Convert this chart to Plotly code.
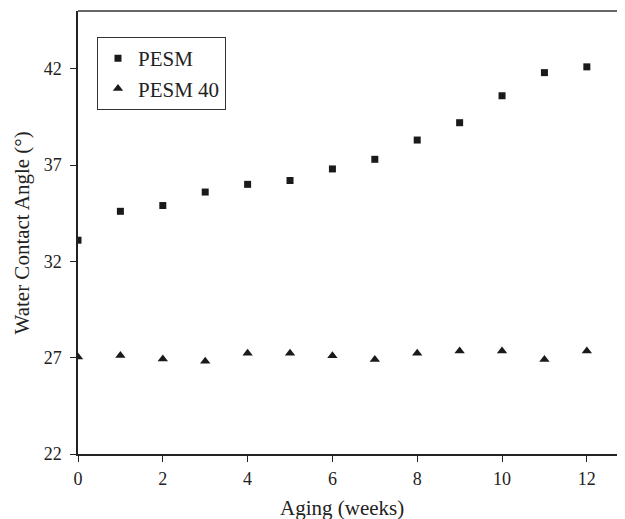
import plotly.graph_objects as go

weeks = [0, 1, 2, 3, 4, 5, 6, 7, 8, 9, 10, 11, 12]
pesm = [33.1, 34.6, 34.9, 35.6, 36.0, 36.2, 36.8, 37.3, 38.3, 39.2, 40.6, 41.8, 42.1]
pesm40 = [27.03, 27.12, 26.93, 26.81, 27.23, 27.23, 27.1, 26.91, 27.23, 27.35, 27.35, 26.91, 27.35]
x_ticks = [0, 2, 4, 6, 8, 10, 12]
y_ticks = [22, 27, 32, 37, 42]

FONT = "Liberation Serif, Times New Roman, serif"
INK = "#1a1a1a"

fig = go.Figure()
fig.add_trace(go.Scatter(x=weeks, y=pesm, mode="markers", name="PESM",
                         legendgroup="a",
                         marker=dict(symbol="square", size=7, color=INK)))
fig.add_trace(go.Scatter(x=weeks, y=pesm40, mode="markers", name="PESM 40",
                         legendgroup="b",
                         marker=dict(symbol="triangle-up", size=9, color=INK)))

axis_common = dict(showgrid=False, zeroline=False, showline=True,
                   linecolor="#222222", linewidth=1.5,
                   ticks="outside", ticklen=6, tickwidth=1.2, tickcolor="#222222",
                   tickfont=dict(family=FONT, size=18, color="#222222"))

fig.update_xaxes(range=[0, 12.9], tickvals=x_ticks, ticklabelstandoff=2, **axis_common)
fig.update_yaxes(range=[22, 45], tickvals=y_ticks, ticklabelstandoff=5, **axis_common)

# page body has an 8px margin: figure drawn at (8, 8)
fig.update_layout(
    width=617, height=511,
    margin=dict(l=70, r=0, t=3, b=65),
    plot_bgcolor="white", paper_bgcolor="white",
    font=dict(family=FONT, color="#222222"),
    showlegend=True,
    legend=dict(x=0.0347, y=0.941, xanchor="left", yanchor="top",
                bgcolor="white", bordercolor="#333333", borderwidth=1,
                font=dict(family=FONT, size=21, color="#222222"),
                tracegroupgap=0),
    shapes=[dict(type="line", xref="paper", yref="paper", x0=0, x1=1, y0=1, y1=1,
                 line=dict(color="#333333", width=1.5))],
    annotations=[
        dict(text="Aging (weeks)", xref="paper", yref="paper", x=0.4826, y=-0.1219,
             xanchor="center", yanchor="middle", showarrow=False,
             font=dict(family=FONT, size=21, color="#222222")),
        dict(text="Water Contact Angle (°)", xref="paper", yref="paper",
             x=-0.1024, y=0.5, textangle=-90, xanchor="center", yanchor="middle",
             showarrow=False, font=dict(family=FONT, size=21, color="#222222")),
    ],
)

fig.write_html("out.html")
